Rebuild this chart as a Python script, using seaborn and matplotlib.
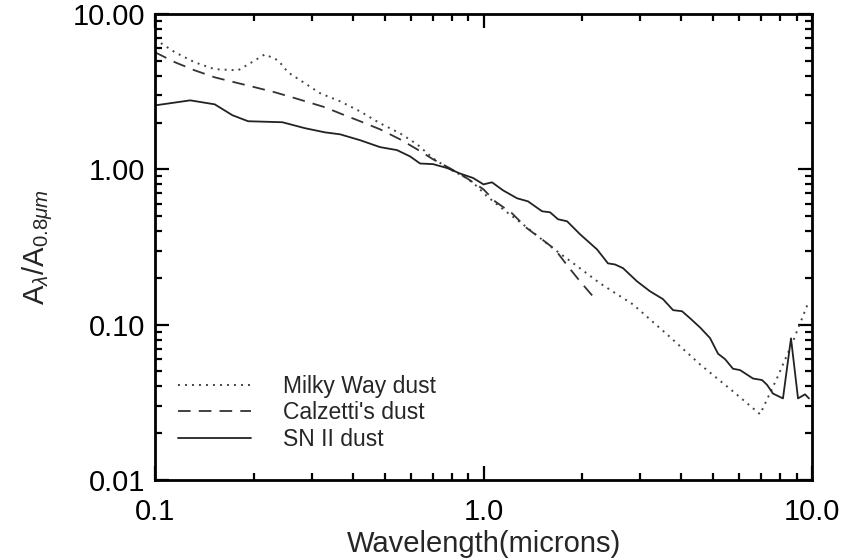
import numpy as np
import pandas as pd
import matplotlib
matplotlib.use("Agg")
import matplotlib.pyplot as plt
import seaborn as sns
from matplotlib.ticker import LogLocator, FixedLocator, FixedFormatter, NullFormatter

# Milky Way dust (dotted)
mw_wave = [0.100, 0.115, 0.132, 0.152, 0.179, 0.197, 0.216, 0.237, 0.254, 0.286,
           0.318, 0.366, 0.421, 0.484, 0.557, 0.628, 0.702, 0.791, 0.891, 0.955,
           1.025, 1.147, 1.319, 1.628, 1.967, 2.263, 2.851, 3.619, 4.561, 5.748,
           6.95, 7.82, 8.75, 9.72]
mw_ext = [6.87, 5.67, 4.89, 4.41, 4.34, 4.89, 5.50, 5.03, 4.21, 3.58,
          3.09, 2.74, 2.36, 1.98, 1.705, 1.449, 1.177, 1.0, 0.875, 0.777,
          0.67, 0.553, 0.442, 0.31, 0.2305, 0.1845, 0.135, 0.0866, 0.0555, 0.0372,
          0.0265, 0.0451, 0.078, 0.137]

# Calzetti's dust (dashed)
cal_wave = [0.100, 0.115, 0.132, 0.152, 0.175, 0.202, 0.232, 0.267, 0.329, 0.366,
            0.421, 0.484, 0.557, 0.628, 0.702, 0.791, 0.891, 1.0, 1.084, 1.221,
            1.357, 1.507, 1.651, 1.808, 1.967, 2.154]
cal_ext = [5.67, 4.89, 4.34, 3.91, 3.63, 3.37, 3.13, 2.87, 2.51, 2.29,
           2.04, 1.81, 1.56, 1.345, 1.16, 1.015, 0.875, 0.743, 0.622, 0.521,
           0.417, 0.354, 0.305, 0.237, 0.19, 0.152]

# SN II dust (solid)
sn_wave = [0.100, 0.128, 0.152, 0.172, 0.192, 0.244, 0.286, 0.329, 0.366, 0.421,
           0.484, 0.545, 0.598, 0.641, 0.702, 0.774, 0.848, 0.929, 1.0, 1.061,
           1.147, 1.265, 1.366, 1.507, 1.594, 1.686, 1.796, 1.967, 2.216, 2.393,
           2.514, 2.659, 2.933, 3.212, 3.518, 3.776, 4.021, 4.252, 4.561, 4.892,
           5.175, 5.435, 5.748, 6.037, 6.614, 7.044, 7.295, 7.607, 8.158, 8.630,
           9.066, 9.521, 9.79]
sn_ext = [2.58, 2.78, 2.62, 2.23, 2.04, 2.01, 1.84, 1.73, 1.68, 1.54,
          1.39, 1.33, 1.21, 1.09, 1.08, 1.02, 0.94, 0.88, 0.80, 0.825,
          0.732, 0.651, 0.622, 0.537, 0.529, 0.477, 0.463, 0.382, 0.305, 0.248,
          0.244, 0.231, 0.190, 0.164, 0.146, 0.124, 0.122, 0.110, 0.096, 0.082,
          0.065, 0.060, 0.052, 0.051, 0.045, 0.044, 0.041, 0.036, 0.0335, 0.0816,
          0.0335, 0.0356, 0.0335]

sns.set_style("ticks")
plt.rcParams['font.family'] = ['Liberation Sans', 'DejaVu Sans']
plt.rcParams['mathtext.fontset'] = 'custom'
plt.rcParams['mathtext.rm'] = 'Liberation Sans'
plt.rcParams['mathtext.it'] = 'Liberation Sans:italic'

fig = plt.figure(figsize=(8.58, 5.60), dpi=100)
ax = fig.add_axes([0.1807, 0.1429, 0.7657, 0.8321])

sns.lineplot(x=mw_wave, y=mw_ext, ax=ax, color="#444444", lw=1.4,
             linestyle=(0, (1, 2.6)), estimator=None, sort=False, label="Milky Way dust")
sns.lineplot(x=cal_wave, y=cal_ext, ax=ax, color="#333333", lw=1.3,
             linestyle=(0, (7, 4.5)), estimator=None, sort=False, label="Calzetti's dust")
sns.lineplot(x=sn_wave, y=sn_ext, ax=ax, color="#222222", lw=1.3,
             linestyle="-", estimator=None, sort=False, label="SN II dust")

ax.set_xscale("log")
ax.set_yscale("log")
ax.set_xlim(0.1, 10)
ax.set_ylim(0.01, 10)

ax.xaxis.set_major_locator(FixedLocator([0.1, 1.0, 10.0]))
ax.xaxis.set_major_formatter(FixedFormatter(["0.1", "1.0", "10.0"]))
ax.yaxis.set_major_locator(FixedLocator([0.01, 0.1, 1.0, 10.0]))
ax.yaxis.set_major_formatter(FixedFormatter(["0.01", "0.10", "1.00", "10.00"]))
ax.xaxis.set_minor_locator(LogLocator(base=10, subs=np.arange(2, 10)))
ax.yaxis.set_minor_locator(LogLocator(base=10, subs=np.arange(2, 10)))
ax.xaxis.set_minor_formatter(NullFormatter())
ax.yaxis.set_minor_formatter(NullFormatter())

ax.tick_params(which="both", direction="in", top=True, right=True, colors="black",
               labelsize=21, width=1.6)
ax.tick_params(which="major", length=10)
ax.tick_params(which="minor", length=5)
ax.tick_params(axis="y", which="major", pad=7)
ax.tick_params(axis="x", which="major", pad=13)
for s in ax.spines.values():
    s.set_linewidth(2)
    s.set_color("black")

ax.set_xlabel("Wavelength(microns)", fontsize=21, labelpad=3)
ax.set_ylabel(r"A$_\lambda$/A$_{0.8\mu m}$", fontsize=21, labelpad=13)

ax.legend(loc="lower left", bbox_to_anchor=(0.035, 0.063), frameon=False,
          fontsize=16.5, handlelength=3.2, handletextpad=1.4, labelspacing=0.15,
          borderpad=0, borderaxespad=0)

fig.savefig("out.png", dpi=100)
